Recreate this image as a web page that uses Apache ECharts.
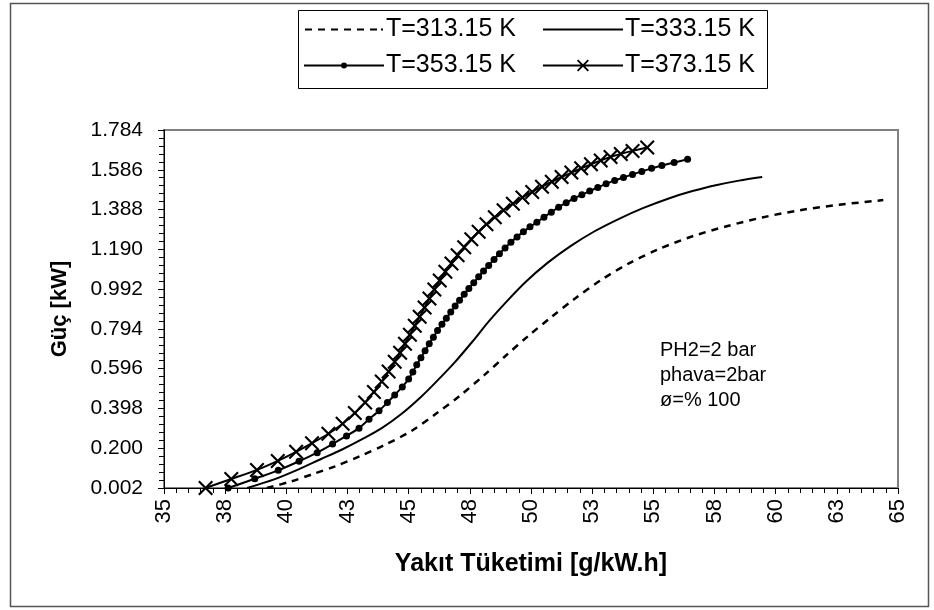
<!DOCTYPE html>
<html><head><meta charset="utf-8">
<script src="https://cdn.jsdelivr.net/npm/echarts@6/dist/echarts.min.js"></script>
<style>html,body{margin:0;padding:0;background:#fff}#c{width:934px;height:610px}</style>
</head><body><div id="c"></div>
<script>
const seriesNames = ['T=313.15 K', 'T=333.15 K', 'T=353.15 K', 'T=373.15 K'];
const xTickLabels = ['35','38','40','43','45','48','50','53','55','58','60','63','65'];
const yTickLabels = ['0.002','0.200','0.398','0.596','0.794','0.992','1.190','1.388','1.586','1.784'];
const Y_BASE = 0.002;

const t313 = [[39.2,0.002],[40.2,0.035],[41.1,0.072],[42.0,0.11],[43.0,0.16],[44.0,0.215],[45.1,0.285],[46.1,0.37],[47.1,0.462],[48.1,0.565],[49.0,0.664],[49.9,0.76],[50.8,0.85],[51.8,0.945],[52.9,1.04],[54.0,1.12],[55.2,1.19],[56.6,1.255],[58.0,1.305],[59.5,1.35],[61.0,1.385],[62.6,1.412],[64.4,1.435]];
const t333 = [[38.4,0.002],[39.5,0.045],[40.5,0.095],[41.4,0.145],[42.3,0.195],[43.1,0.245],[43.9,0.30],[44.7,0.37],[45.5,0.455],[46.2,0.54],[46.9,0.63],[47.6,0.73],[48.3,0.835],[49.0,0.93],[49.8,1.03],[50.7,1.125],[51.6,1.205],[52.6,1.28],[53.6,1.342],[54.6,1.396],[55.6,1.442],[56.6,1.48],[57.6,1.51],[58.5,1.532],[59.45,1.55]];
const t353 = [[37.62,0.002],[38.71,0.048],[39.67,0.09],[40.52,0.135],[41.26,0.178],[41.89,0.221],[42.46,0.261],[42.97,0.30],[43.38,0.344],[43.79,0.387],[44.13,0.427],[44.43,0.465],[44.74,0.505],[45.0,0.545],[45.17,0.58],[45.33,0.615],[45.5,0.65],[45.67,0.685],[45.84,0.72],[46.01,0.753],[46.18,0.786],[46.36,0.817],[46.54,0.847],[46.72,0.878],[46.9,0.908],[47.08,0.937],[47.27,0.966],[47.46,0.995],[47.66,1.024],[47.86,1.053],[48.06,1.082],[48.27,1.11],[48.49,1.14],[48.71,1.168],[48.94,1.197],[49.18,1.225],[49.43,1.252],[49.69,1.278],[49.96,1.302],[50.24,1.325],[50.53,1.35],[50.83,1.375],[51.13,1.40],[51.44,1.422],[51.76,1.443],[52.08,1.462],[52.4,1.48],[52.73,1.498],[53.07,1.516],[53.42,1.533],[53.78,1.548],[54.15,1.563],[54.53,1.578],[54.93,1.593],[55.35,1.607],[55.85,1.622],[56.4,1.638]];
const t373 = [[36.7,0.002],[37.75,0.047],[38.8,0.092],[39.65,0.137],[40.4,0.182],[41.05,0.225],[41.72,0.272],[42.3,0.322],[42.8,0.375],[43.22,0.428],[43.58,0.48],[43.9,0.532],[44.18,0.582],[44.43,0.63],[44.65,0.675],[44.85,0.72],[45.05,0.765],[45.25,0.81],[45.45,0.855],[45.65,0.9],[45.85,0.945],[46.05,0.99],[46.27,1.035],[46.5,1.078],[46.75,1.12],[47.0,1.16],[47.27,1.2],[47.56,1.24],[47.86,1.278],[48.18,1.315],[48.52,1.35],[48.88,1.385],[49.26,1.417],[49.65,1.448],[50.05,1.476],[50.45,1.502],[50.85,1.527],[51.25,1.55],[51.65,1.572],[52.05,1.593],[52.45,1.613],[52.85,1.632],[53.25,1.65],[53.67,1.665],[54.15,1.68],[54.75,1.697]];
const noteLines = ['PH2=2 bar', 'phava=2bar', 'ø=% 100'];

function shift(arr) { return arr.map(p => [p[0], p[1] - Y_BASE]); }

const FONT = '"Liberation Sans", Arial, sans-serif';
const CORNERS = 'M0,0L0.01,0L0,0.01Z M80,16L79.99,16L80,15.99Z ';
const iconDash = 'path://' + CORNERS + 'M1,7h7v2h-7z M14,7h7v2h-7z M27,7h7v2h-7z M40,7h7v2h-7z M53,7h7v2h-7z M66,7h7v2h-7z M77,7h2v2h-2z';
const iconSolid = 'path://' + CORNERS + 'M0,7h80v2h-80z';
const iconDot = 'path://' + CORNERS + 'M0,7h80v2h-80z M37,8a3,3 0 1,1 6,0a3,3 0 1,1 -6,0z';
const iconX = 'path://' + CORNERS + 'M0,7h80v2h-80z M34,3.3L35.3,2L40,6.7L44.7,2L46,3.3L41.3,8L46,12.7L44.7,14L40,9.3L35.3,14L34,12.7L38.7,8Z';
const xSymbol = 'path://M0,1L1,0L5,4L9,0L10,1L6,5L10,9L9,10L5,6L1,10L0,9L4,5Z';

const legendBase = {
  left: 304, itemWidth: 80, itemHeight: 16, itemGap: 27, padding: 0,
  textStyle: { fontFamily: FONT, fontSize: 25, color: '#000', padding: [0,0,0,-3] },
  itemStyle: { borderWidth: 0 }, selectedMode: false
};

const chart = echarts.init(document.getElementById('c'), null, { renderer: 'canvas' });
chart.setOption({
  animation: false,
  backgroundColor: '#fff',
  grid: { left: 164, right: 36, top: 130, bottom: 122, show: true, borderColor: '#808080', borderWidth: 2, backgroundColor: 'transparent' },
  legend: [
    Object.assign({}, legendBase, { top: 17, data: [{ name: seriesNames[0], icon: iconDash }, { name: seriesNames[1], icon: iconSolid }] }),
    Object.assign({}, legendBase, { top: 53, data: [{ name: seriesNames[2], icon: iconDot }, { name: seriesNames[3], icon: iconX }] })
  ],
  xAxis: {
    type: 'value', min: 35, max: 65, interval: 2.5,
    name: 'Yakıt Tüketimi [g/kW.h]', nameLocation: 'middle', nameGap: 64,
    nameTextStyle: { fontFamily: FONT, fontSize: 25, fontWeight: 'bold', color: '#000' },
    axisLine: { show: true, lineStyle: { color: '#000', width: 1 } },
    axisTick: { show: true, inside: false, length: 6, lineStyle: { color: '#000' } },
    minorTick: { show: true, splitNumber: 5, length: 5, lineStyle: { color: '#000' } },
    splitLine: { show: false },
    axisLabel: { rotate: 90, margin: 11, fontFamily: FONT, fontSize: 22, color: '#000',
      formatter: v => xTickLabels[Math.round((v - 35) / 2.5)] }
  },
  yAxis: {
    type: 'value', min: 0, max: 1.782, interval: 0.198,
    name: 'Güç [kW]', nameLocation: 'middle', nameGap: 93, nameRotate: 90,
    nameTextStyle: { fontFamily: FONT, fontSize: 22, fontWeight: 'bold', color: '#000' },
    axisLine: { show: true, lineStyle: { color: '#000', width: 1 } },
    axisTick: { show: true, inside: false, length: 6, lineStyle: { color: '#000' } },
    minorTick: { show: true, splitNumber: 5, length: 5, lineStyle: { color: '#000' } },
    splitLine: { show: false },
    axisLabel: { margin: 21, fontFamily: FONT, fontSize: 21, color: '#000',
      formatter: v => yTickLabels[Math.round(v / 0.198)] }
  },
  series: [
    { name: seriesNames[0], type: 'line', data: shift(t313), smooth: 0.3, showSymbol: false, symbol: 'circle',
      lineStyle: { color: '#000', width: 2.5, type: [7, 6] }, itemStyle: { color: '#000' }, z: 2 },
    { name: seriesNames[1], type: 'line', data: shift(t333), smooth: 0.3, showSymbol: false, symbol: 'circle',
      lineStyle: { color: '#000', width: 2 }, itemStyle: { color: '#000' }, z: 2 },
    { name: seriesNames[2], type: 'line', data: shift(t353), smooth: 0.2, symbol: 'circle', symbolSize: 7,
      lineStyle: { color: '#000', width: 2 }, itemStyle: { color: '#000' }, z: 3 },
    { name: seriesNames[3], type: 'line', data: shift(t373), smooth: 0.2, symbol: xSymbol, symbolSize: 15,
      lineStyle: { color: '#000', width: 2 }, itemStyle: { color: '#000' }, z: 4 }
  ],
  graphic: [
    { type: 'rect', left: 8, top: 1, shape: { width: 918, height: 603 }, style: { fill: 'none', stroke: '#555', lineWidth: 1.5 }, silent: true, z: -1 },
    { type: 'rect', left: 296, top: 8, shape: { width: 469, height: 78 }, style: { fill: 'none', stroke: '#000', lineWidth: 1 }, silent: true },
    { type: 'text', left: 660, top: 338, style: { text: noteLines.join('\n'), fontFamily: FONT, fontSize: 20, lineHeight: 25, fill: '#000' }, silent: true }
  ]
});
</script></body></html>
